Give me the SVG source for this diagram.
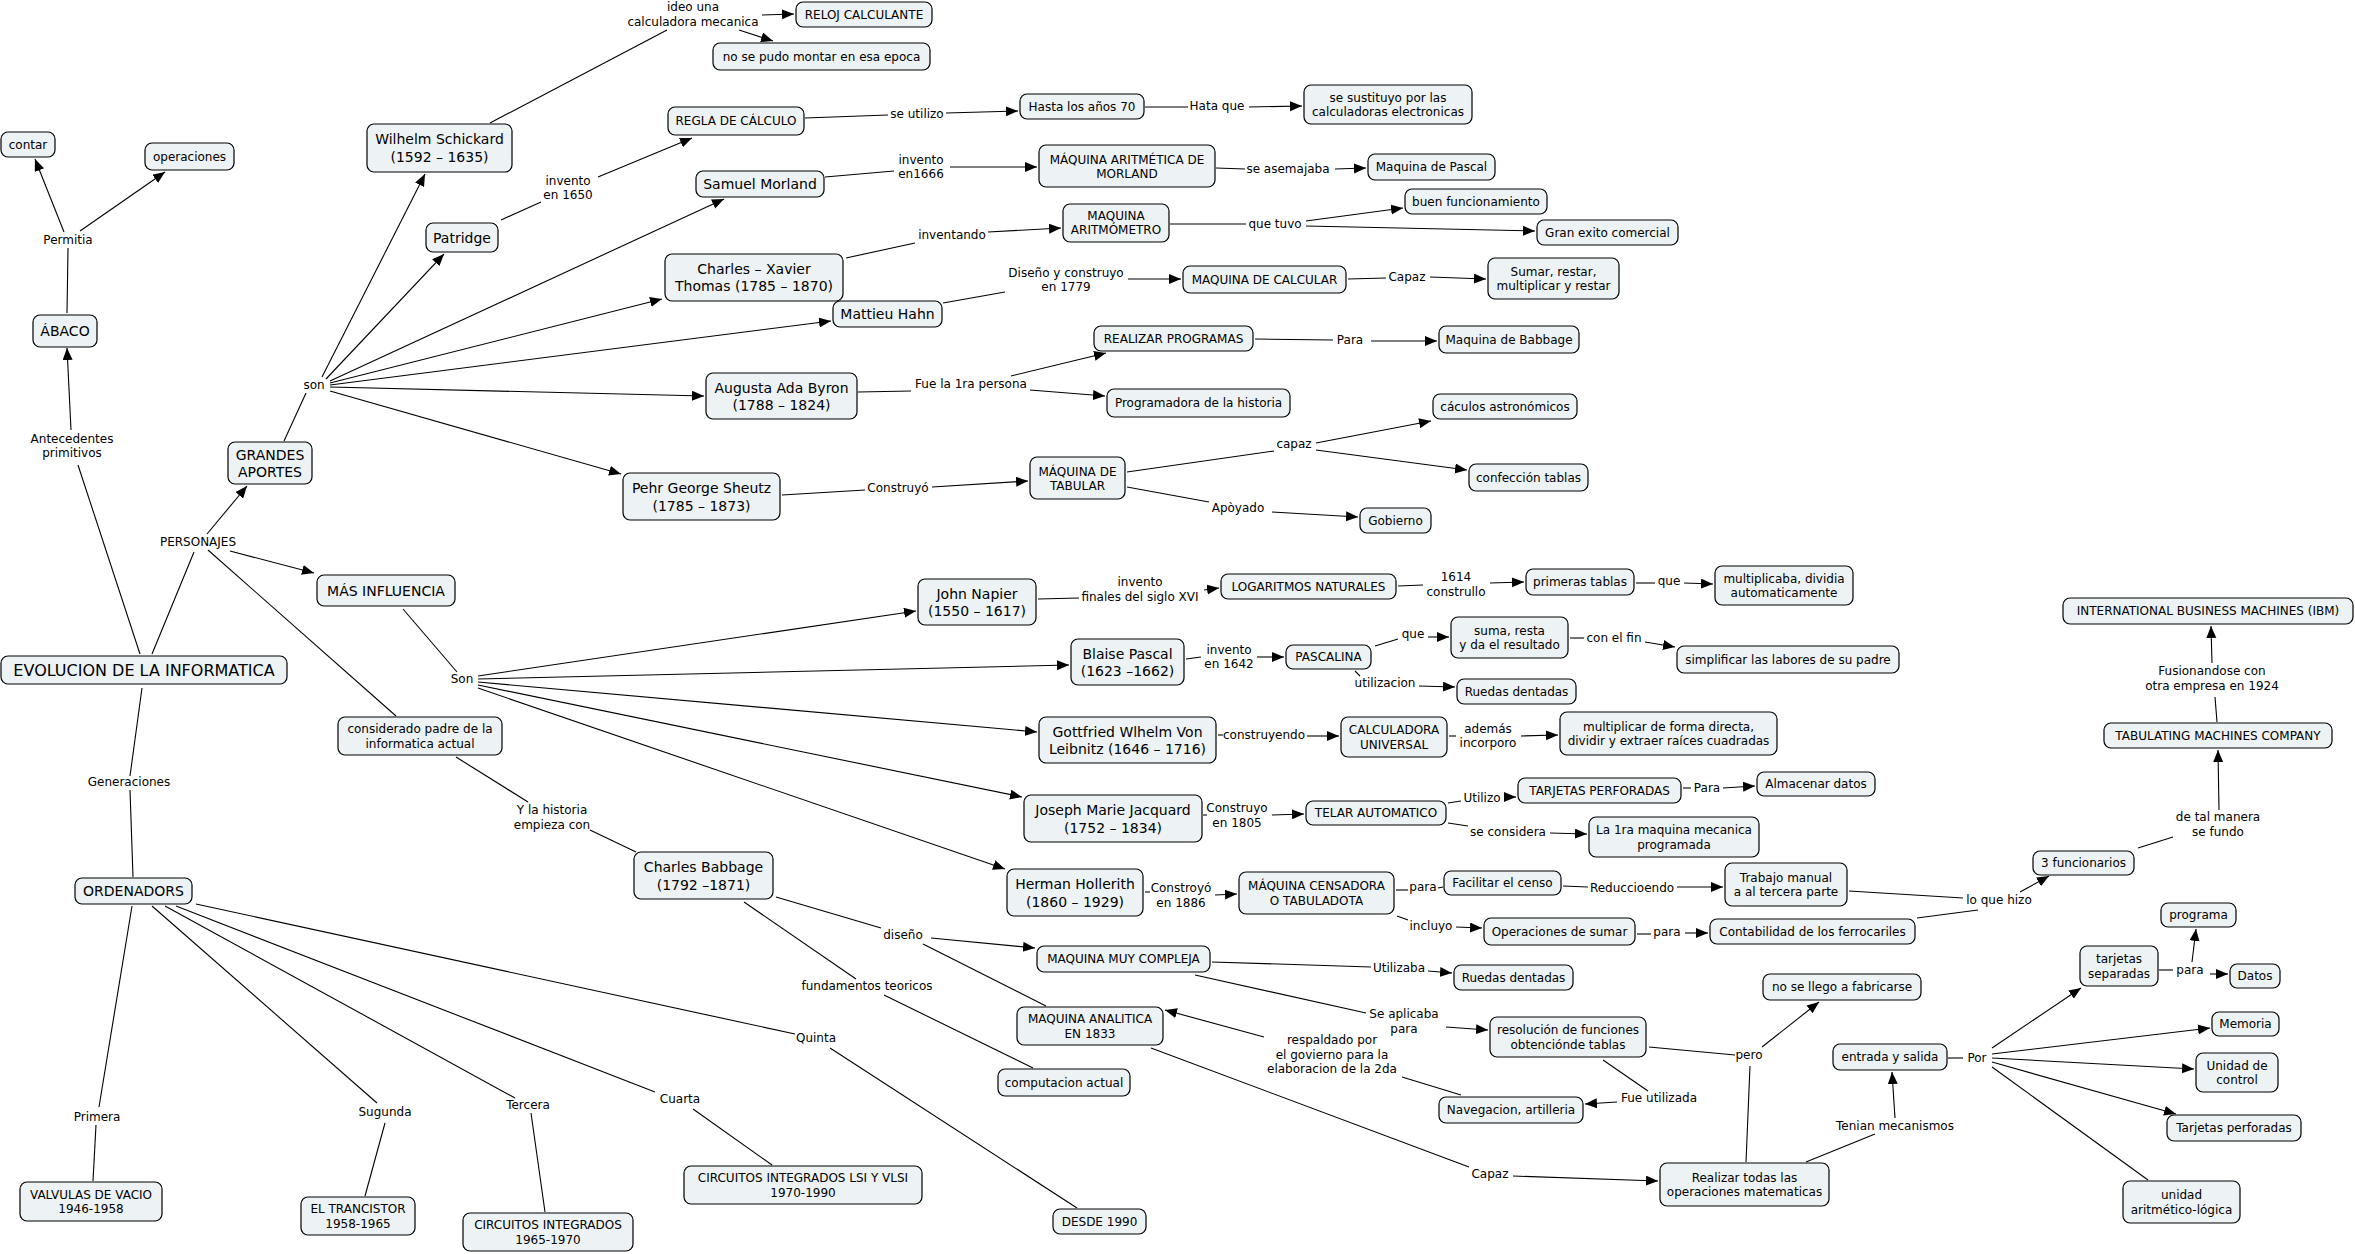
<svg xmlns="http://www.w3.org/2000/svg" width="2355" height="1254" viewBox="0 0 2355 1254">
<style>
rect{fill:#edf3f5;stroke:#000;stroke-width:1.2}
text{font-family:"DejaVu Sans",Verdana,sans-serif;font-size:12px;fill:#000;text-anchor:middle;dominant-baseline:central}
.b{font-size:14px}
.c{font-size:16px}
#edges path{stroke:#000;stroke-width:1.1;fill:none}
#edges path.a{marker-end:url(#ar)}
</style>
<defs>
<marker id="ar" markerUnits="userSpaceOnUse" markerWidth="13" markerHeight="11" refX="12" refY="5" orient="auto"><path d="M0,0 L12,5 L0,10 z" fill="#000"/></marker>
</defs>
<rect x="0" y="0" width="2355" height="1254" style="fill:#fff;stroke:none"/>
<g id="edges">
<path d="M140,654 L78,465"/>
<path class="a" d="M71,430 L67,348"/>
<path d="M67,313 L68,248"/>
<path class="a" d="M64,232 L35,159"/>
<path class="a" d="M80,231 L165,172"/>
<path d="M152,654 L194,552"/>
<path class="a" d="M207,534 L247,486"/>
<path class="a" d="M230,551 L314,573"/>
<path d="M208,550 L396,716"/>
<path d="M456,757 L528,802"/>
<path d="M590,830 L636,852"/>
<path d="M142,688 L130,776"/>
<path d="M130,790 L133,877"/>
<path d="M284,441 L306,393"/>
<path class="a" d="M322,377 L425,174"/>
<path class="a" d="M326,379 L444,254"/>
<path class="a" d="M330,381 L724,199"/>
<path class="a" d="M330,383 L662,299"/>
<path class="a" d="M330,385 L831,321"/>
<path class="a" d="M330,387 L704,396"/>
<path class="a" d="M330,391 L621,474"/>
<path d="M490,123 L667,30"/>
<path class="a" d="M762,15 L794,14"/>
<path class="a" d="M739,30 L773,41"/>
<path d="M501,220 L541,202"/>
<path class="a" d="M598,177 L692,138"/>
<path d="M805,118 L888,115"/>
<path class="a" d="M946,113 L1018,111"/>
<path d="M1145,107 L1188,107"/>
<path class="a" d="M1249,107 L1302,106"/>
<path d="M825,177 L894,171"/>
<path class="a" d="M950,167 L1037,167"/>
<path d="M1216,168 L1245,169"/>
<path class="a" d="M1335,169 L1366,168"/>
<path d="M846,258 L915,243"/>
<path class="a" d="M988,232 L1061,228"/>
<path d="M1170,224 L1246,224"/>
<path class="a" d="M1306,221 L1403,208"/>
<path class="a" d="M1306,226 L1535,231"/>
<path d="M943,303 L1005,292"/>
<path class="a" d="M1128,279 L1181,279"/>
<path d="M1348,279 L1386,278"/>
<path class="a" d="M1430,277 L1486,279"/>
<path d="M858,392 L911,391"/>
<path class="a" d="M1011,376 L1106,353"/>
<path class="a" d="M1030,390 L1105,396"/>
<path d="M1255,339 L1333,340"/>
<path class="a" d="M1371,341 L1437,341"/>
<path d="M782,495 L865,490"/>
<path class="a" d="M932,487 L1028,481"/>
<path d="M1127,472 L1274,451"/>
<path class="a" d="M1316,443 L1431,421"/>
<path class="a" d="M1316,450 L1467,470"/>
<path d="M1127,487 L1209,502"/>
<path class="a" d="M1272,512 L1358,517"/>
<path d="M403,609 L457,672"/>
<path class="a" d="M478,676 L916,611"/>
<path class="a" d="M478,679 L1069,665"/>
<path class="a" d="M478,682 L1037,732"/>
<path class="a" d="M478,685 L1022,797"/>
<path class="a" d="M478,688 L1005,869"/>
<path d="M1038,599 L1079,598"/>
<path class="a" d="M1204,590 L1219,588"/>
<path d="M1398,586 L1423,585"/>
<path class="a" d="M1490,583 L1524,582"/>
<path d="M1636,583 L1655,583"/>
<path class="a" d="M1684,583 L1713,584"/>
<path d="M1186,659 L1201,657"/>
<path class="a" d="M1257,657 L1284,657"/>
<path d="M1375,646 L1398,639"/>
<path class="a" d="M1428,637 L1449,637"/>
<path d="M1570,638 L1584,638"/>
<path class="a" d="M1645,642 L1675,647"/>
<path d="M1355,671 L1360,676"/>
<path class="a" d="M1419,686 L1455,687"/>
<path d="M1218,735 L1223,735"/>
<path class="a" d="M1307,736 L1339,736"/>
<path d="M1449,736 L1456,736"/>
<path class="a" d="M1521,736 L1558,735"/>
<path d="M1203,815 L1207,815"/>
<path class="a" d="M1272,815 L1304,814"/>
<path d="M1448,803 L1461,801"/>
<path class="a" d="M1504,797 L1516,797"/>
<path d="M1683,788 L1691,788"/>
<path class="a" d="M1723,788 L1755,786"/>
<path d="M1448,823 L1468,826"/>
<path class="a" d="M1550,833 L1587,834"/>
<path d="M1145,892 L1150,892"/>
<path class="a" d="M1215,895 L1237,894"/>
<path d="M1396,890 L1408,890"/>
<path d="M1438,888 L1443,887"/>
<path d="M1563,886 L1588,887"/>
<path class="a" d="M1677,887 L1723,887"/>
<path d="M1397,916 L1408,920"/>
<path class="a" d="M1456,927 L1482,928"/>
<path d="M1637,934 L1651,934"/>
<path class="a" d="M1685,933 L1708,933"/>
<path d="M1849,891 L1963,898"/>
<path d="M1917,918 L1978,910"/>
<path class="a" d="M2020,892 L2049,876"/>
<path d="M2138,848 L2173,837"/>
<path class="a" d="M2219,810 L2218,750"/>
<path d="M2217,722 L2215,697"/>
<path class="a" d="M2212,663 L2211,626"/>
<path d="M776,897 L881,928"/>
<path class="a" d="M931,938 L1035,948"/>
<path d="M923,944 L1046,1006"/>
<path d="M744,902 L856,979"/>
<path d="M884,995 L1033,1068"/>
<path d="M1212,962 L1371,967"/>
<path class="a" d="M1428,971 L1452,973"/>
<path d="M1195,975 L1366,1013"/>
<path class="a" d="M1446,1027 L1488,1030"/>
<path d="M1461,1095 L1402,1077"/>
<path class="a" d="M1264,1037 L1165,1010"/>
<path d="M1603,1060 L1648,1091"/>
<path class="a" d="M1617,1102 L1585,1104"/>
<path d="M1649,1047 L1735,1055"/>
<path class="a" d="M1762,1047 L1819,1002"/>
<path d="M1746,1162 L1750,1066"/>
<path d="M1151,1048 L1469,1167"/>
<path class="a" d="M1513,1176 L1658,1181"/>
<path d="M1806,1162 L1875,1134"/>
<path class="a" d="M1895,1118 L1892,1072"/>
<path d="M1948,1058 L1963,1058"/>
<path class="a" d="M1992,1048 L2081,988"/>
<path class="a" d="M1992,1054 L2210,1028"/>
<path class="a" d="M1992,1058 L2194,1069"/>
<path class="a" d="M1992,1062 L2176,1114"/>
<path d="M1992,1067 L2148,1180"/>
<path d="M2159,970 L2173,970"/>
<path class="a" d="M2192,962 L2196,929"/>
<path class="a" d="M2210,974 L2228,974"/>
<path d="M132,906 L99,1107"/>
<path d="M96,1125 L93,1181"/>
<path d="M152,906 L377,1103"/>
<path d="M385,1123 L365,1196"/>
<path d="M165,906 L515,1098"/>
<path d="M531,1113 L545,1212"/>
<path d="M176,906 L655,1092"/>
<path d="M693,1109 L772,1165"/>
<path d="M196,904 L795,1034"/>
<path d="M830,1048 L1077,1208"/>
</g>
<g id="labels">
<text x="68" y="240">Permitia</text>
<text x="72" y="439">Antecedentes</text><text x="72" y="453">primitivos</text>
<text x="198" y="542">PERSONAJES</text>
<text x="129" y="782">Generaciones</text>
<text x="314" y="385">son</text>
<text x="462" y="679">Son</text>
<text x="552" y="810">Y la historia</text><text x="552" y="825">empieza con</text>
<text x="693" y="7">ideo una</text><text x="693" y="22">calculadora mecanica</text>
<text x="568" y="181">invento</text><text x="568" y="195">en 1650</text>
<text x="917" y="114">se utilizo</text>
<text x="1217" y="106">Hata que</text>
<text x="921" y="160">invento</text><text x="921" y="174">en1666</text>
<text x="1288" y="169">se asemajaba</text>
<text x="952" y="235">inventando</text>
<text x="1275" y="224">que tuvo</text>
<text x="1066" y="273">Diseño y construyo</text><text x="1066" y="287">en 1779</text>
<text x="1407" y="277">Capaz</text>
<text x="971" y="384">Fue la 1ra persona</text>
<text x="1350" y="340">Para</text>
<text x="898" y="488">Construyó</text>
<text x="1294" y="444">capaz</text>
<text x="1238" y="508">Apòyado</text>
<text x="1140" y="582">invento</text><text x="1140" y="597">finales del siglo XVI</text>
<text x="1456" y="577">1614</text><text x="1456" y="592">construllo</text>
<text x="1669" y="581">que</text>
<text x="1229" y="650">invento</text><text x="1229" y="664">en 1642</text>
<text x="1413" y="634">que</text>
<text x="1614" y="638">con el fin</text>
<text x="1385" y="683">utilizacion</text>
<text x="1264" y="735">construyendo</text>
<text x="1488" y="729">además</text><text x="1488" y="743">incorporo</text>
<text x="1237" y="808">Construyo</text><text x="1237" y="823">en 1805</text>
<text x="1482" y="798">Utilizo</text>
<text x="1707" y="788">Para</text>
<text x="1508" y="832">se considera</text>
<text x="1181" y="888">Constroyó</text><text x="1181" y="903">en 1886</text>
<text x="1423" y="887">para</text>
<text x="1632" y="888">Reduccioendo</text>
<text x="1431" y="926">incluyo</text>
<text x="1667" y="932">para</text>
<text x="1999" y="900">lo que hizo</text>
<text x="2218" y="817">de tal manera</text><text x="2218" y="832">se fundo</text>
<text x="2212" y="671">Fusionandose con</text><text x="2212" y="686">otra empresa en 1924</text>
<text x="903" y="935">diseño</text>
<text x="867" y="986">fundamentos teoricos</text>
<text x="816" y="1038">Quinta</text>
<text x="680" y="1099">Cuarta</text>
<text x="97" y="1117">Primera</text>
<text x="385" y="1112">Sugunda</text>
<text x="528" y="1105">Tercera</text>
<text x="1399" y="968">Utilizaba</text>
<text x="1404" y="1014">Se aplicaba</text><text x="1404" y="1029">para</text>
<text x="1332" y="1040">respaldado por</text><text x="1332" y="1055">el govierno para la</text><text x="1332" y="1069">elaboracion de la 2da</text>
<text x="1659" y="1098">Fue utilizada</text>
<text x="1749" y="1055">pero</text>
<text x="1490" y="1174">Capaz</text>
<text x="1895" y="1126">Tenian mecanismos</text>
<text x="1977" y="1058">Por</text>
<text x="2190" y="970">para</text>
</g>
<g id="n1"><rect x="1" y="132" width="54" height="25" rx="7"/><text x="28" y="144.5">contar</text></g>
<g id="n2"><rect x="145" y="143" width="89" height="27" rx="7"/><text x="189.5" y="156.5">operaciones</text></g>
<g id="n3"><rect x="33" y="315" width="64" height="32" rx="7"/><text class="b" x="65" y="331">ÁBACO</text></g>
<g id="n4"><rect x="1" y="656" width="286" height="28" rx="7"/><text class="c" x="144" y="670">EVOLUCION DE LA INFORMATICA</text></g>
<g id="n5"><rect x="367" y="124" width="145" height="48" rx="7"/><text class="b" x="439.5" y="139">Wilhelm Schickard</text><text class="b" x="439.5" y="157">(1592 – 1635)</text></g>
<g id="n6"><rect x="426" y="223" width="72" height="29" rx="7"/><text class="b" x="462" y="237.5">Patridge</text></g>
<g id="n7"><rect x="796" y="2" width="136" height="25" rx="7"/><text x="864" y="14.5">RELOJ CALCULANTE</text></g>
<g id="n8"><rect x="713" y="43" width="217" height="27" rx="7"/><text x="821.5" y="56.5">no se pudo montar en esa epoca</text></g>
<g id="n9"><rect x="668" y="107" width="136" height="28" rx="7"/><text x="736" y="121">REGLA DE CÁLCULO</text></g>
<g id="n10"><rect x="1020" y="94" width="124" height="25" rx="7"/><text x="1082" y="106.5">Hasta los años 70</text></g>
<g id="n11"><rect x="1304" y="85" width="168" height="39" rx="7"/><text x="1388" y="97.5">se sustituyo por las</text><text x="1388" y="112">calculadoras electronicas</text></g>
<g id="n12"><rect x="696" y="171" width="128" height="26" rx="7"/><text class="b" x="760" y="184">Samuel Morland</text></g>
<g id="n13"><rect x="1039" y="145" width="176" height="42" rx="7"/><text x="1127" y="159.5">MÁQUINA ARITMÉTICA DE</text><text x="1127" y="174">MORLAND</text></g>
<g id="n14"><rect x="1368" y="154" width="127" height="26" rx="7"/><text x="1431.5" y="167">Maquina de Pascal</text></g>
<g id="n15"><rect x="1063" y="204" width="106" height="38" rx="7"/><text x="1116" y="215.5">MAQUINA</text><text x="1116" y="230">ARITMÓMETRO</text></g>
<g id="n16"><rect x="1405" y="189" width="142" height="25" rx="7"/><text x="1476" y="201.5">buen funcionamiento</text></g>
<g id="n17"><rect x="1537" y="220" width="141" height="25" rx="7"/><text x="1607.5" y="232.5">Gran exito comercial</text></g>
<g id="n18"><rect x="665" y="254" width="178" height="47" rx="7"/><text class="b" x="754" y="268.5">Charles – Xavier</text><text class="b" x="754" y="286">Thomas (1785 – 1870)</text></g>
<g id="n19"><rect x="833" y="301" width="109" height="26" rx="7"/><text class="b" x="887.5" y="314">Mattieu Hahn</text></g>
<g id="n20"><rect x="1183" y="266" width="163" height="27" rx="7"/><text x="1264.5" y="279.5">MAQUINA DE CALCULAR</text></g>
<g id="n21"><rect x="1488" y="258" width="131" height="41" rx="7"/><text x="1553.5" y="271.5">Sumar, restar,</text><text x="1553.5" y="286">multiplicar y restar</text></g>
<g id="n22"><rect x="1094" y="326" width="159" height="25" rx="7"/><text x="1173.5" y="338.5">REALIZAR PROGRAMAS</text></g>
<g id="n23"><rect x="1439" y="326" width="140" height="27" rx="7"/><text x="1509" y="339.5">Maquina de Babbage</text></g>
<g id="n24"><rect x="706" y="373" width="151" height="46" rx="7"/><text class="b" x="781.5" y="387.5">Augusta Ada Byron</text><text class="b" x="781.5" y="405">(1788 – 1824)</text></g>
<g id="n25"><rect x="1107" y="389" width="183" height="28" rx="7"/><text x="1198.5" y="403">Programadora de la historia</text></g>
<g id="n26"><rect x="1433" y="394" width="144" height="25" rx="7"/><text x="1505" y="406.5">cáculos astronómicos</text></g>
<g id="n27"><rect x="623" y="473" width="157" height="47" rx="7"/><text class="b" x="701.5" y="488">Pehr George Sheutz</text><text class="b" x="701.5" y="505.5">(1785 – 1873)</text></g>
<g id="n28"><rect x="1030" y="457" width="95" height="42" rx="7"/><text x="1077.5" y="471.5">MÁQUINA DE</text><text x="1077.5" y="486">TABULAR</text></g>
<g id="n29"><rect x="1469" y="464" width="119" height="27" rx="7"/><text x="1528.5" y="477.5">confección tablas</text></g>
<g id="n30"><rect x="1360" y="508" width="71" height="25" rx="7"/><text x="1395.5" y="520.5">Gobierno</text></g>
<g id="n31"><rect x="228" y="442" width="84" height="42" rx="7"/><text class="b" x="270" y="454.5">GRANDES</text><text class="b" x="270" y="472">APORTES</text></g>
<g id="n32"><rect x="317" y="575" width="138" height="31" rx="7"/><text class="b" x="386" y="590.5">MÁS INFLUENCIA</text></g>
<g id="n33"><rect x="338" y="717" width="164" height="38" rx="7"/><text x="420" y="729">considerado padre de la</text><text x="420" y="743.5">informatica actual</text></g>
<g id="n34"><rect x="918" y="579" width="118" height="46" rx="7"/><text class="b" x="977" y="593.5">John Napier</text><text class="b" x="977" y="611">(1550 – 1617)</text></g>
<g id="n35"><rect x="1221" y="574" width="175" height="25" rx="7"/><text x="1308.5" y="586.5">LOGARITMOS NATURALES</text></g>
<g id="n36"><rect x="1526" y="569" width="108" height="26" rx="7"/><text x="1580" y="582">primeras tablas</text></g>
<g id="n37"><rect x="1715" y="566" width="138" height="39" rx="7"/><text x="1784" y="578.5">multiplicaba, dividia</text><text x="1784" y="593">automaticamente</text></g>
<g id="n38"><rect x="1071" y="639" width="113" height="46" rx="7"/><text class="b" x="1127.5" y="653.5">Blaise Pascal</text><text class="b" x="1127.5" y="671">(1623 –1662)</text></g>
<g id="n39"><rect x="1286" y="645" width="85" height="24" rx="7"/><text x="1328.5" y="657">PASCALINA</text></g>
<g id="n40"><rect x="1451" y="617" width="117" height="41" rx="7"/><text x="1509.5" y="630.5">suma, resta</text><text x="1509.5" y="645">y da el resultado</text></g>
<g id="n41"><rect x="1677" y="646" width="222" height="27" rx="7"/><text x="1788" y="659.5">simplificar las labores de su padre</text></g>
<g id="n42"><rect x="1457" y="679" width="119" height="25" rx="7"/><text x="1516.5" y="691.5">Ruedas dentadas</text></g>
<g id="n43"><rect x="1039" y="717" width="177" height="46" rx="7"/><text class="b" x="1127.5" y="731.5">Gottfried Wlhelm Von</text><text class="b" x="1127.5" y="749">Leibnitz (1646 – 1716)</text></g>
<g id="n44"><rect x="1341" y="717" width="106" height="40" rx="7"/><text x="1394" y="730">CALCULADORA</text><text x="1394" y="744.5">UNIVERSAL</text></g>
<g id="n45"><rect x="1560" y="712" width="217" height="43" rx="7"/><text x="1668.5" y="726.5">multiplicar de forma directa,</text><text x="1668.5" y="741">dividir y extraer raíces cuadradas</text></g>
<g id="n46"><rect x="1024" y="795" width="178" height="47" rx="7"/><text class="b" x="1113" y="810">Joseph Marie Jacquard</text><text class="b" x="1113" y="827.5">(1752 – 1834)</text></g>
<g id="n47"><rect x="1306" y="801" width="140" height="24" rx="7"/><text x="1376" y="813">TELAR AUTOMATICO</text></g>
<g id="n48"><rect x="1518" y="778" width="163" height="25" rx="7"/><text x="1599.5" y="790.5">TARJETAS PERFORADAS</text></g>
<g id="n49"><rect x="1757" y="772" width="118" height="24" rx="7"/><text x="1816" y="784">Almacenar datos</text></g>
<g id="n50"><rect x="1589" y="817" width="170" height="40" rx="7"/><text x="1674" y="830">La 1ra maquina mecanica</text><text x="1674" y="844.5">programada</text></g>
<g id="n51"><rect x="1007" y="869" width="136" height="47" rx="7"/><text class="b" x="1075" y="884">Herman Hollerith</text><text class="b" x="1075" y="901.5">(1860 – 1929)</text></g>
<g id="n52"><rect x="1239" y="872" width="155" height="42" rx="7"/><text x="1316.5" y="886">MÁQUINA CENSADORA</text><text x="1316.5" y="900.5">O TABULADOTA</text></g>
<g id="n53"><rect x="1444" y="871" width="117" height="24" rx="7"/><text x="1502.5" y="883">Facilitar el censo</text></g>
<g id="n54"><rect x="1725" y="863" width="122" height="43" rx="7"/><text x="1786" y="877.5">Trabajo manual</text><text x="1786" y="892">a al tercera parte</text></g>
<g id="n55"><rect x="1484" y="918" width="151" height="27" rx="7"/><text x="1559.5" y="931.5">Operaciones de sumar</text></g>
<g id="n56"><rect x="1710" y="919" width="205" height="25" rx="7"/><text x="1812.5" y="931.5">Contabilidad de los ferrocariles</text></g>
<g id="n57"><rect x="2033" y="851" width="101" height="24" rx="7"/><text x="2083.5" y="863">3 funcionarios</text></g>
<g id="n58"><rect x="2104" y="723" width="228" height="25" rx="7"/><text x="2218" y="735.5">TABULATING MACHINES COMPANY</text></g>
<g id="n59"><rect x="2063" y="598" width="290" height="26" rx="7"/><text x="2208" y="611">INTERNATIONAL BUSINESS MACHINES (IBM)</text></g>
<g id="n60"><rect x="634" y="852" width="139" height="47" rx="7"/><text class="b" x="703.5" y="867">Charles Babbage</text><text class="b" x="703.5" y="884.5">(1792 –1871)</text></g>
<g id="n61"><rect x="1037" y="946" width="173" height="26" rx="7"/><text x="1123.5" y="959">MAQUINA MUY COMPLEJA</text></g>
<g id="n62"><rect x="1454" y="965" width="119" height="25" rx="7"/><text x="1513.5" y="977.5">Ruedas dentadas</text></g>
<g id="n63"><rect x="1017" y="1007" width="146" height="38" rx="7"/><text x="1090" y="1019">MAQUINA ANALITICA</text><text x="1090" y="1033.5">EN 1833</text></g>
<g id="n64"><rect x="998" y="1069" width="132" height="27" rx="7"/><text x="1064" y="1082.5">computacion actual</text></g>
<g id="n65"><rect x="1490" y="1017" width="156" height="40" rx="7"/><text x="1568" y="1030">resolución de funciones</text><text x="1568" y="1044.5">obtenciónde tablas</text></g>
<g id="n66"><rect x="1439" y="1097" width="144" height="26" rx="7"/><text x="1511" y="1110">Navegacion, artilleria</text></g>
<g id="n67"><rect x="1763" y="974" width="158" height="26" rx="7"/><text x="1842" y="987">no se llego a fabricarse</text></g>
<g id="n68"><rect x="1660" y="1163" width="169" height="43" rx="7"/><text x="1744.5" y="1177.5">Realizar todas las</text><text x="1744.5" y="1192">operaciones matematicas</text></g>
<g id="n69"><rect x="1833" y="1044" width="114" height="26" rx="7"/><text x="1890" y="1057">entrada y salida</text></g>
<g id="n70"><rect x="2080" y="946" width="78" height="40" rx="7"/><text x="2119" y="959">tarjetas</text><text x="2119" y="973.5">separadas</text></g>
<g id="n71"><rect x="2161" y="903" width="75" height="24" rx="7"/><text x="2198.5" y="915">programa</text></g>
<g id="n72"><rect x="2230" y="964" width="50" height="24" rx="7"/><text x="2255" y="976">Datos</text></g>
<g id="n73"><rect x="2212" y="1012" width="67" height="24" rx="7"/><text x="2245.5" y="1024">Memoria</text></g>
<g id="n74"><rect x="2196" y="1053" width="82" height="39" rx="7"/><text x="2237" y="1065.5">Unidad de</text><text x="2237" y="1080">control</text></g>
<g id="n75"><rect x="2167" y="1115" width="134" height="26" rx="7"/><text x="2234" y="1128">Tarjetas perforadas</text></g>
<g id="n76"><rect x="2123" y="1181" width="117" height="42" rx="7"/><text x="2181.5" y="1195">unidad</text><text x="2181.5" y="1209.5">aritmético-lógica</text></g>
<g id="n77"><rect x="75" y="878" width="117" height="26" rx="7"/><text class="b" x="133.5" y="891">ORDENADORS</text></g>
<g id="n78"><rect x="20" y="1182" width="142" height="39" rx="7"/><text x="91" y="1194.5">VALVULAS DE VACIO</text><text x="91" y="1209">1946-1958</text></g>
<g id="n79"><rect x="301" y="1197" width="114" height="38" rx="7"/><text x="358" y="1209">EL TRANCISTOR</text><text x="358" y="1223.5">1958-1965</text></g>
<g id="n80"><rect x="463" y="1213" width="170" height="38" rx="7"/><text x="548" y="1225">CIRCUITOS INTEGRADOS</text><text x="548" y="1239.5">1965-1970</text></g>
<g id="n81"><rect x="684" y="1166" width="238" height="38" rx="7"/><text x="803" y="1178">CIRCUITOS INTEGRADOS LSI Y VLSI</text><text x="803" y="1192.5">1970-1990</text></g>
<g id="n82"><rect x="1053" y="1209" width="93" height="25" rx="7"/><text x="1099.5" y="1221.5">DESDE 1990</text></g>
</svg>
